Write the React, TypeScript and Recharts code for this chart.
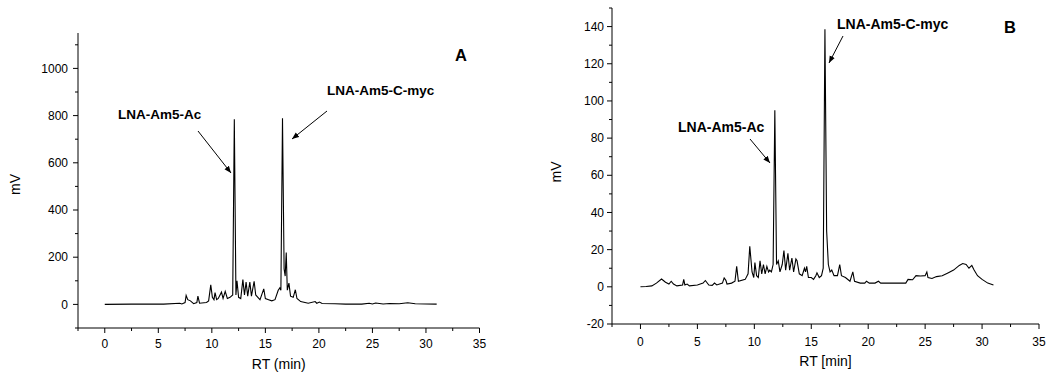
import { LineChart, Line, XAxis, YAxis } from 'recharts';

// panel A: crude extract
const aTime = [0, 2.5, 3.8, 4.2, 5, 5.5, 7, 7.2, 7.5, 7.6, 7.75, 8, 8.3, 8.6, 8.7, 8.85, 9.5, 9.7, 9.9, 10.05, 10.2, 10.3, 10.45, 10.6, 10.9, 11.05, 11.25, 11.45, 11.7, 11.95, 12.1, 12.25, 12.35, 12.5, 12.7, 12.9, 13.05, 13.2, 13.35, 13.55, 13.7, 13.95, 14.1, 14.3, 14.5, 14.85, 15, 15.3, 15.6, 15.9, 16.2, 16.35, 16.45, 16.6, 16.75, 16.85, 16.95, 17.05, 17.2, 17.35, 17.6, 17.8, 17.95, 18.3, 19, 19.65, 19.8, 20.05, 20.3, 21.5, 22.5, 24, 24.7, 25, 25.3, 26, 26.6, 27.5, 28.3, 29, 31];
const aMv = [0, 1, 2, 1, 2, 1, 5, 2, 8, 38, 20, 15, 3, 8, 35, 5, 8, 15, 83, 30, 20, 50, 20, 25, 52, 25, 55, 25, 30, 40, 785, 40, 100, 30, 25, 105, 40, 95, 35, 95, 35, 98, 40, 30, 20, 66, 25, 20, 15, 20, 60, 70, 60, 789, 150, 120, 220, 60, 90, 35, 30, 62, 25, 12, 5, 12, 5, 10, 4, 3, 1, 1, 5, 2, 6, 2, 4, 3, 7, 3, 1];

// panel B: purified product
const bTime = [0, 0.5, 1, 1.4, 1.85, 2.2, 2.5, 2.7, 2.9, 3.2, 3.7, 3.8, 3.9, 4.1, 4.3, 5, 5.5, 5.7, 6, 6.3, 6.5, 6.7, 7.2, 7.35, 7.5, 7.6, 8, 8.3, 8.45, 8.6, 9.2, 9.45, 9.6, 9.8, 9.95, 10.05, 10.2, 10.35, 10.5, 10.65, 10.8, 10.95, 11.1, 11.25, 11.35, 11.5, 11.65, 11.8, 11.95, 12.1, 12.25, 12.45, 12.6, 12.75, 12.95, 13.1, 13.3, 13.45, 13.65, 13.75, 13.95, 14.2, 14.4, 14.5, 14.6, 14.75, 15, 15.2, 15.4, 15.5, 15.7, 15.9, 16.05, 16.2, 16.35, 16.5, 16.65, 16.8, 17, 17.3, 17.5, 17.65, 18, 18.4, 18.65, 18.8, 19.3, 19.7, 19.85, 20.1, 20.6, 20.9, 21.1, 22, 23, 23.3, 23.5, 23.9, 24.2, 24.6, 25, 25.15, 25.25, 25.6, 26, 26.5, 27, 27.5, 28, 28.3, 28.6, 28.85, 29.1, 29.3, 29.6, 30, 30.5, 31];
const bMv = [0, 0.2, 0.5, 2, 4.2, 2.5, 1.5, 3, 1.5, 0.5, 1, 4, 1, 1.5, 0.5, 1, 2, 3.4, 1, 0.8, 2, 1, 2, 4.8, 3.5, 1.5, 2, 3, 11, 3, 4, 7, 21.8, 8, 5, 13, 6, 5, 14, 7, 12, 7, 11, 8, 9, 8, 12, 95, 12, 14, 8, 12, 19.5, 9, 18, 9, 15.5, 8, 15, 14, 7, 6, 10, 8, 11, 5, 5, 4, 6, 7.5, 5, 6, 10, 138.6, 30, 12, 8, 9, 6, 6, 12, 6, 5, 3, 8, 3, 2, 2, 3, 2, 2, 3, 2, 2, 2, 2, 4, 3.8, 6, 5.8, 6, 8, 5, 4.5, 5.5, 6, 7.5, 9, 11.5, 12.5, 12, 10, 11.5, 9, 6, 4, 2, 1];

const xMajor = [0, 5, 10, 15, 20, 25, 30, 35];
const xMinor = [-2.5, 2.5, 7.5, 12.5, 17.5, 22.5, 27.5, 32.5];
const aYMajor = [0, 200, 400, 600, 800, 1000];
const aYMinor = [-100, 100, 300, 500, 700, 900, 1100];
const bYMajor = [-20, 0, 20, 40, 60, 80, 100, 120, 140];
const bYMinor = [-10, 10, 30, 50, 70, 90, 110, 130, 150];

const aData = aTime.map((t, i) => ({ t, mv: aMv[i] }));
const bData = bTime.map((t, i) => ({ t, mv: bMv[i] }));

const FONT = 'Arial, "Liberation Sans", sans-serif';

const YTick = ({ x, y, payload, majors, gap }: any) => {
  const major = majors.includes(payload.value);
  return (
    <g>
      <line x1={x - (major ? 5 : 3)} x2={x} y1={y} y2={y} stroke="#000" />
      {major && (
        <text x={x - gap} y={y} dy="0.35em" textAnchor="end" fontSize={12} fontFamily={FONT} fill="#000">
          {payload.value}
        </text>
      )}
    </g>
  );
};

const XTick = ({ x, y, payload, gap }: any) => {
  const major = xMajor.includes(payload.value);
  return (
    <g>
      <line x1={x} x2={x} y1={y} y2={y + (major ? 5 : 3)} stroke="#000" />
      {major && (
        <text x={x} y={y + gap} textAnchor="middle" fontSize={12} fontFamily={FONT} fill="#000">
          {payload.value}
        </text>
      )}
    </g>
  );
};

const Panel = ({ data, yDomain, yMajor, yMinor, yWidth, xHeight, top, width, right, xLabel, yGap, xGap, xLabelOffset, yLabelOffset, yLabelDy }: any) => (
  <LineChart width={width} height={378} data={data} margin={{ top, right, left: 0, bottom: 0 }}>
    <XAxis
      dataKey="t"
      type="number"
      domain={[-2.5, 35]}
      allowDataOverflow
      ticks={[...xMajor, ...xMinor].sort((a, b) => a - b)}
      interval={0}
      height={xHeight}
      tickSize={0}
      tickMargin={0}
      tickLine={false}
      axisLine={{ stroke: '#000' }}
      tick={(p: any) => <XTick {...p} gap={xGap} />}
      label={{ value: xLabel, position: 'insideBottom', offset: xLabelOffset, fill: '#000', fontSize: 14, fontFamily: FONT }}
    />
    <YAxis
      type="number"
      domain={yDomain}
      allowDataOverflow
      ticks={[...yMajor, ...yMinor].sort((a, b) => a - b)}
      interval={0}
      width={yWidth}
      tickSize={0}
      tickMargin={0}
      tickLine={false}
      axisLine={{ stroke: '#000' }}
      tick={(p: any) => <YTick {...p} majors={yMajor} gap={yGap} />}
      label={{ value: 'mV', angle: -90, position: 'insideLeft', offset: yLabelOffset, dy: yLabelDy, fill: '#000', fontSize: 14, fontFamily: FONT, style: { textAnchor: 'middle' } }}
    />
    <Line dataKey="mv" type="linear" dot={false} stroke="#000" strokeWidth={1.1} isAnimationActive={false} />
  </LineChart>
);

const Note = ({ x, y, text, size }: any) => (
  <text x={x} y={y} fontSize={size} fontWeight="bold" fontFamily={FONT} fill="#000">{text}</text>
);

const Arrow = ({ x1, y1, x2, y2 }: any) => (
  <line x1={x1} y1={y1} x2={x2} y2={y2} stroke="#000" strokeWidth={1} markerEnd="url(#head)" />
);

export default function App() {
  return (
    <div style={{ position: 'absolute', left: 0, top: 0, width: 1047, height: 378, background: '#fff' }}>
      <div style={{ position: 'absolute', left: 0, top: 0 }}>
        <Panel data={aData} yDomain={[-100, 1150]} yMajor={aYMajor} yMinor={aYMinor} yWidth={78} xHeight={50}
          top={33} width={490} right={10.5} xLabel="RT (min)" yGap={10} xGap={19.5} xLabelOffset={9} yLabelOffset={15} yLabelDy={4} />
      </div>
      <div style={{ position: 'absolute', left: 540, top: 0 }}>
        <Panel data={bData} yDomain={[-20, 150]} yMajor={bYMajor} yMinor={bYMinor} yWidth={72} xHeight={54}
          top={8} width={507} right={8} xLabel="RT [min]" yGap={8} xGap={22} xLabelOffset={12} yLabelOffset={16} yLabelDy={6} />
      </div>
      <svg width={1047} height={378} style={{ position: 'absolute', left: 0, top: 0, pointerEvents: 'none' }}>
        <defs>
          <marker id="head" viewBox="0 0 10 10" refX="10" refY="5" markerWidth="7" markerHeight="7" orient="auto-start-reverse" markerUnits="userSpaceOnUse">
            <path d="M0,1 L10,5 L0,9 z" fill="#000" />
          </marker>
        </defs>
        <text x={455} y={61} fontSize={16.5} fontWeight="bold" fontFamily={FONT}>A</text>
        <Note x={118} y={119} text="LNA-Am5-Ac" size={13.5} />
        <Note x={327} y={95} text="LNA-Am5-C-myc" size={13.5} />
        <Arrow x1={198} y1={131} x2={231} y2={173} />
        <Arrow x1={327} y1={111} x2={292} y2={139} />
        <text x={1004} y={33} fontSize={16.5} fontWeight="bold" fontFamily={FONT}>B</text>
        <Note x={678} y={132} text="LNA-Am5-Ac" size={14} />
        <Note x={837} y={29} text="LNA-Am5-C-myc" size={14} />
        <Arrow x1={750} y1={139} x2={770} y2={163} />
        <Arrow x1={843} y1={36} x2={829} y2={63} />
      </svg>
    </div>
  );
}
